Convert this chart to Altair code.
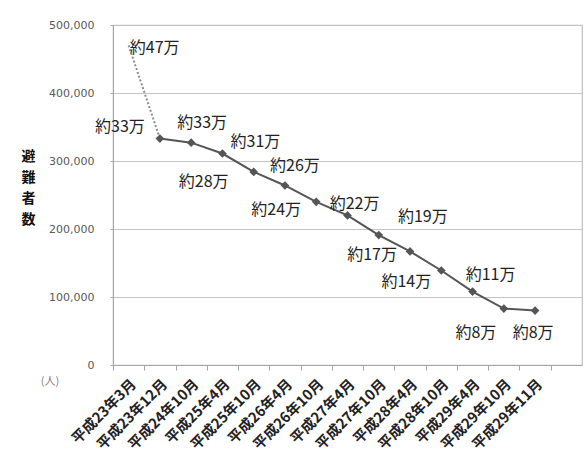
import altair as alt
import pandas as pd

# Survey dates (Heisei era) and number of evacuees
months = [
    "平成23年3月", "平成23年12月", "平成24年10月", "平成25年4月",
    "平成25年10月", "平成26年4月", "平成26年10月", "平成27年4月",
    "平成27年10月", "平成28年4月", "平成28年10月", "平成29年4月",
    "平成29年10月", "平成29年11月",
]
evacuees = [
    470000, 333000, 327000, 311000, 284000, 264000, 240000,
    220000, 191000, 167000, 139000, 108000, 83000, 80000,
]
value_labels = [
    "約47万", "約33万", "約33万", "約31万", "約28万", "約26万", "約24万",
    "約22万", "約19万", "約17万", "約14万", "約11万", "約8万", "約8万",
]

# label placement relative to each point (pixels)
label_dx = [26, -40, 11, 33, -50, 10, -40, 7, 44, -38, -35, 18, -28, -2]
label_dy = [3, -12, -20, -12, 10, -19, 8, -11, -18, 4, 12, -17, 24, 22]

df = pd.DataFrame({"month": months, "value": evacuees, "label": value_labels})

JP = "Noto Sans CJK JP"
LINE = "#555555"

x_enc = alt.X(
    "month:N",
    sort=months,
    scale=alt.Scale(type="band", domain=months, paddingInner=0, paddingOuter=0.5, align=0),
    axis=alt.Axis(
        title=None,
        labelAngle=-45,
        labelFont=JP,
        labelFontSize=14.5,
        labelFontWeight="bold",
        labelColor="#222222",
        labelPadding=7,
        tickBand="extent",
        tickSize=5,
        tickColor="#a6a6a6",
        domainColor="#a6a6a6",
        grid=False,
    ),
)
y_enc = alt.Y(
    "value:Q",
    scale=alt.Scale(domain=[0, 500000], nice=False),
    axis=alt.Axis(
        values=[0, 100000, 200000, 300000, 400000, 500000],
        format=",d",
        labelFont="DejaVu Sans",
        labelFontSize=11,
        labelColor="#595959",
        labelPadding=16,
        tickSize=3,
        tickColor="#a6a6a6",
        domainColor="#a6a6a6",
        gridColor="#c4c4c4",
        gridWidth=1.2,
        title=["避", "難", "者", "数"],
        titleAngle=0,
        titleX=-85,
        titleY=124,
        titleAlign="center",
        titleBaseline="top",
        titleLineHeight=21,
        titleFont=JP,
        titleFontSize=14,
        titleFontWeight="bold",
        titleColor="#111111",
    ),
)

base = alt.Chart(df).encode(x=x_enc, y=y_enc)

dotted = base.transform_filter(
    alt.FieldOneOfPredicate(field="month", oneOf=months[:2])
).mark_line(color="#8c8c8c", strokeWidth=2, strokeDash=[2, 2])

rest = base.transform_filter(
    alt.FieldOneOfPredicate(field="month", oneOf=months[1:])
)
solid = rest.mark_line(color=LINE, strokeWidth=2)
points = rest.mark_point(shape="diamond", filled=True, size=75, color=LINE, opacity=1)

label_layers = []
for m, dx, dy in zip(months, label_dx, label_dy):
    label_layers.append(
        base.transform_filter(alt.datum.month == m)
        .mark_text(font=JP, fontSize=16, color="#222222", dx=dx, dy=dy,
                   align="center", baseline="middle")
        .encode(text="label:N")
    )

unit = alt.Chart(pd.DataFrame({"t": ["(人)"]})).mark_text(
    font=JP, fontSize=11, color="#7f7f7f", align="center", baseline="middle"
).encode(x=alt.value(-63), y=alt.value(357), text="t:N")

chart = alt.layer(dotted, solid, points, *label_layers, unit).properties(
    width=469,
    height=340,
    autosize=alt.AutoSizeParams(type="none"),
    padding={"left": 113, "top": 25, "right": 4, "bottom": 96},
    background="white",
).configure_view(stroke="#bfbfbf", strokeWidth=1.2)

chart.save("out.html", embed_options={"renderer": "svg", "actions": False})
